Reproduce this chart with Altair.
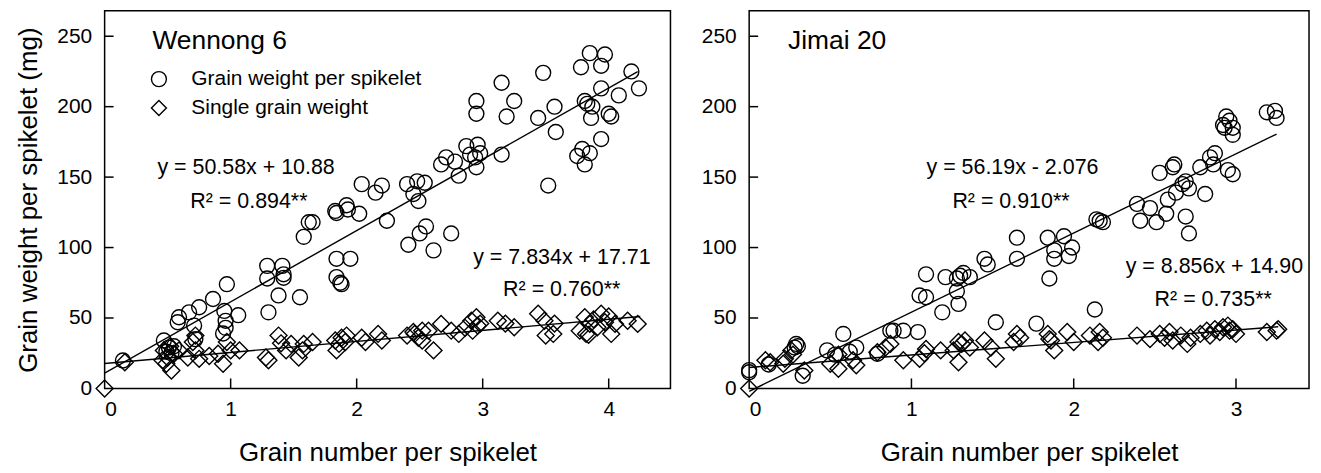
import altair as alt
import pandas as pd

FONT = "Liberation Sans"
SERIES = ["Grain weight per spikelet", "Single grain weight"]

# ---------------- Wennong 6 (left panel) ----------------
w6_gw_x = [0.145, 0.47, 0.51, 0.55, 0.49, 0.53, 0.58, 0.59, 0.67, 0.75,
           0.71, 0.72, 0.86, 0.97, 0.95, 0.96, 0.96, 0.94, 1.06, 1.29,
           1.29, 1.30, 1.38, 1.41, 1.42, 1.42, 1.55, 1.58, 1.62, 1.65,
           1.83, 1.84, 1.92, 1.93, 2.02, 1.84, 1.95, 1.84, 1.87, 1.88,
           2.04, 2.15, 2.20, 2.24, 2.40, 2.48, 2.54, 2.45, 2.49, 2.41,
           2.50, 2.55, 2.61, 2.75, 2.67, 2.71, 2.78, 2.81, 2.87, 2.90,
           2.96, 2.98, 2.94, 2.95, 2.95, 2.95, 3.15, 3.15, 3.19, 3.25,
           3.44, 3.48, 3.52, 3.57, 3.58, 3.78, 3.85, 3.97, 3.94, 3.81,
           3.83, 3.87, 3.86, 3.94, 4.00, 4.02, 4.08, 4.18, 4.24, 3.75,
           3.79, 3.85, 3.81, 3.94]
w6_gw_y = [19.8, 34, 29, 30, 26, 25, 47, 50.5, 54, 57.6,
           44.6, 35, 63.5, 74, 55, 48, 43, 39, 52, 87,
           78, 54, 66, 87, 81, 78.5, 64.7, 107.6, 118, 118,
           126, 124.5, 130, 127, 124, 92, 92, 79, 75, 74,
           145, 139, 144, 119, 145, 147, 146, 138, 133, 102,
           110, 115, 98, 110, 159, 164, 161, 151, 172, 166,
           173, 167, 164, 157, 204, 195, 166, 217, 193, 204,
           192, 224, 144, 200, 182, 228, 238, 237, 229, 204,
           202, 200, 192, 213, 195, 193, 208, 225, 213, 165,
           170, 167, 159, 177]
w6_sg_x = [0.00, 0.16, 0.47, 0.50, 0.53, 0.46, 0.55, 0.49, 0.59, 0.66,
           0.72, 0.72, 0.75, 0.83, 0.90, 0.94, 0.97, 1.00, 1.07, 1.28,
           1.30, 1.38, 1.44, 1.48, 1.54, 1.58, 1.65, 1.57, 1.83, 1.86,
           1.88, 1.91, 1.92, 1.84, 2.04, 2.07, 2.17, 2.20, 2.40, 2.45,
           2.49, 2.52, 2.46, 2.52, 2.61, 2.57, 2.67, 2.75, 2.81, 2.86,
           2.91, 2.95, 2.96, 2.92, 2.98, 3.12, 3.18, 3.25, 3.44, 3.49,
           3.50, 3.56, 3.57, 3.77, 3.81, 3.85, 3.88, 3.82, 3.91, 3.94,
           3.97, 4.02, 4.05, 4.15, 4.23, 3.84, 4.00, 0.52, 0.70, 1.40]
w6_sg_y = [0, 18.6, 27, 22, 12.7, 20, 24.6, 17.5, 27, 22,
           37.5, 27, 21, 23, 24.6, 17.5, 33, 27, 27, 22,
           20, 37.5, 27, 31.6, 22, 31.6, 33, 27, 34, 31.6,
           36, 33, 37.5, 27, 36, 33, 38.7, 34, 37.5, 40,
           36, 41, 38.7, 34, 27, 41, 45.8, 41, 38.7, 43,
           48, 50.5, 44.6, 41, 46, 48, 46, 43.4, 53, 48,
           37.5, 38.7, 46, 41, 50.5, 45.8, 49, 38.7, 43.4, 53,
           47, 38.7, 45.8, 48, 45.8, 38, 51, 30, 33, 32]
w6_gw_fit = [50.58, 10.88, 4.23]   # slope, intercept, last x
w6_sg_fit = [7.834, 17.71, 4.25]

# ---------------- Jimai 20 (right panel) ----------------
j20_gw_x = [0.00, 0.00, 0.12, 0.29, 0.30, 0.28, 0.33, 0.48, 0.58, 0.66,
            0.53, 0.62, 0.79, 0.87, 0.89, 0.95, 1.04, 1.09, 1.05, 1.09,
            1.19, 1.21, 1.28, 1.30, 1.32, 1.36, 1.28, 1.29, 1.45, 1.47,
            1.52, 1.65, 1.65, 1.77, 1.84, 1.88, 1.88, 1.85, 1.94, 1.99,
            1.97, 2.13, 2.14, 2.16, 2.18, 2.39, 2.41, 2.47, 2.51, 2.53,
            2.57, 2.58, 2.61, 2.62, 2.63, 2.67, 2.69, 2.69, 2.71, 2.71,
            2.81, 2.78, 2.84, 2.87, 2.86, 2.95, 2.98, 2.92, 2.94, 2.96,
            2.98, 2.98, 2.93, 3.19, 3.24, 3.25]
j20_gw_y = [11.5, 13, 17, 31.6, 30, 29, 9, 27, 38.7, 29,
            24, 26, 24.6, 41, 41, 41, 40, 81, 66, 64.7,
            54, 79, 78, 80, 82, 79, 69, 60, 92, 88,
            47, 107, 92, 46, 107, 98, 92, 78, 108, 100,
            94, 56, 120, 119, 118, 131, 119, 128, 118, 153,
            124, 134, 157, 159, 139, 145, 147, 122, 110, 142,
            138, 157, 164, 167, 159, 155, 152, 187, 193, 190,
            185, 180, 185, 196, 197, 192]
j20_sg_x = [0.00, 0.13, 0.10, 0.21, 0.22, 0.26, 0.27, 0.34, 0.50, 0.55,
            0.55, 0.64, 0.66, 0.79, 0.84, 0.87, 0.95, 1.05, 1.09, 1.08,
            1.18, 1.26, 1.29, 1.31, 1.33, 1.29, 1.36, 1.45, 1.49, 1.52,
            1.65, 1.63, 1.84, 1.86, 1.88, 1.96, 2.00, 1.67, 1.85, 2.10,
            2.16, 2.18, 2.15, 2.39, 2.47, 2.53, 2.56, 2.59, 2.61, 2.66,
            2.70, 2.72, 2.78, 2.82, 2.84, 2.87, 2.90, 2.92, 2.95, 2.96,
            2.98, 3.00, 3.19, 3.25, 3.26]
j20_sg_y = [0, 18.6, 20, 17.5, 21, 27, 24, 12.7, 17.5, 14,
            24, 20, 16.5, 25.7, 29, 31.6, 20, 21, 28, 25,
            27, 27, 33, 31.6, 34, 18.6, 29, 34, 29, 21,
            38.7, 33, 38.7, 34, 27, 40, 33, 36, 35, 37.5,
            40, 36, 33, 37.5, 35, 38.7, 36, 40, 34, 37.5,
            31.6, 36, 38.7, 41, 37.5, 42, 40, 43.4, 44.6, 41,
            42, 38.7, 40, 41, 42]
j20_gw_fit = [56.19, -2.076, 3.25]
j20_sg_fit = [8.856, 14.90, 3.26]

Y_TICKS = [0, 50, 100, 150, 200, 250]
Y_MAX = 268
H = 379


def text_layer(txt, px, py, size):
    return alt.Chart(pd.DataFrame({"t": [txt]})).mark_text(
        align="left", baseline="alphabetic", font=FONT, fontSize=size, color="black"
    ).encode(x=alt.value(px), y=alt.value(py), text="t:N")


def panel(gw_x, gw_y, sg_x, sg_y, gw_fit, sg_fit, xmax, xticks, width,
          ytitle, legend, texts):
    X = alt.X("x:Q", scale=alt.Scale(domain=[0, xmax], nice=False, zero=True),
              axis=alt.Axis(values=xticks, title="Grain number per spikelet", format="d"))
    Y = alt.Y("y:Q", scale=alt.Scale(domain=[0, Y_MAX], nice=False, zero=True),
              axis=alt.Axis(values=Y_TICKS, title=ytitle, format="d"))
    shape = alt.Shape("series:N", scale=alt.Scale(domain=SERIES, range=["circle", "diamond"]),
                      legend=legend)

    gw = pd.DataFrame({"x": gw_x, "y": gw_y, "series": SERIES[0]})
    sg = pd.DataFrame({"x": sg_x, "y": sg_y, "series": SERIES[1]})
    circles = alt.Chart(gw).mark_point(filled=False, color="black", strokeWidth=1.4,
                                       size=225, opacity=1).encode(x=X, y=Y, shape=shape)
    diamonds = alt.Chart(sg).mark_point(filled=False, color="black", strokeWidth=1.4,
                                        size=289, opacity=1).encode(x=X, y=Y, shape=shape)

    fit_rows = []
    for name, (a, b, xe) in zip(SERIES, [gw_fit, sg_fit]):
        for xv in [0.0, xe]:
            fit_rows.append({"x": xv, "y": a * xv + b, "series": name})
    fits = alt.Chart(pd.DataFrame(fit_rows)).mark_line(
        color="black", strokeWidth=1.4).encode(x=X, y=Y, detail="series:N")

    yt = alt.Chart(pd.DataFrame({"y": Y_TICKS[1:]})).mark_rule(
        color="black", strokeWidth=1.5).encode(y=Y, x=alt.value(0), x2=alt.value(9))
    xt = alt.Chart(pd.DataFrame({"x": [v for v in xticks if v > 0]})).mark_rule(
        color="black", strokeWidth=1.5).encode(x=X, y=alt.value(H), y2=alt.value(H - 10))

    layers = [fits, yt, xt, circles, diamonds] + [text_layer(*t) for t in texts]
    return alt.layer(*layers).properties(width=width, height=H)


left = panel(w6_gw_x, w6_gw_y, w6_sg_x, w6_sg_y, w6_gw_fit, w6_sg_fit,
             4.49, [0, 1, 2, 3, 4], 568, "Grain weight per spikelet (mg)",
             alt.Legend(orient="none", legendX=44, legendY=58, title=None,
                        labelFont=FONT, labelFontSize=21, labelColor="black",
                        labelLimit=400, symbolSize=225, symbolStrokeWidth=1.4,
                        symbolStrokeColor="black", symbolFillColor="white",
                        labelOffset=22, rowPadding=7, padding=0),
             [("Wennong 6", 48, 38, 26.5),
              ("y = 50.58x + 10.88", 53, 164, 21.5),
              ("R² = 0.894**", 86, 198, 21.5),
              ("y = 7.834x + 17.71", 370, 254, 21.5),
              ("R² = 0.760**", 400, 286, 21.5)])

right = panel(j20_gw_x, j20_gw_y, j20_sg_x, j20_sg_y, j20_gw_fit, j20_sg_fit,
              3.45, [0, 1, 2, 3], 562, None, None,
              [("Jimai 20", 39, 38, 26.5),
               ("y = 56.19x - 2.076", 178, 164, 21.5),
               ("R² = 0.910**", 204, 198, 21.5),
               ("y = 8.856x + 14.90", 378, 263, 21.5),
               ("R² = 0.735**", 407, 296, 21.5)])

chart = alt.hconcat(left, right, spacing=29).resolve_scale(
    shape="independent").resolve_legend(shape="independent").properties(
    padding={"left": 7, "top": 1, "right": 3, "bottom": 0}
).configure_view(stroke="black", strokeWidth=1.5).configure_axis(
    grid=False, domain=False, ticks=False, tickSize=0,
    labelFont=FONT, labelFontSize=21, labelColor="black",
    titleFont=FONT, titleFontSize=26, titleFontWeight="normal", titleColor="black",
).configure_axisX(titlePadding=20, labelPadding=10).configure_axisY(
    titlePadding=15, labelPadding=13)

chart.save("out.html", embed_options={"renderer": "svg", "actions": False})
